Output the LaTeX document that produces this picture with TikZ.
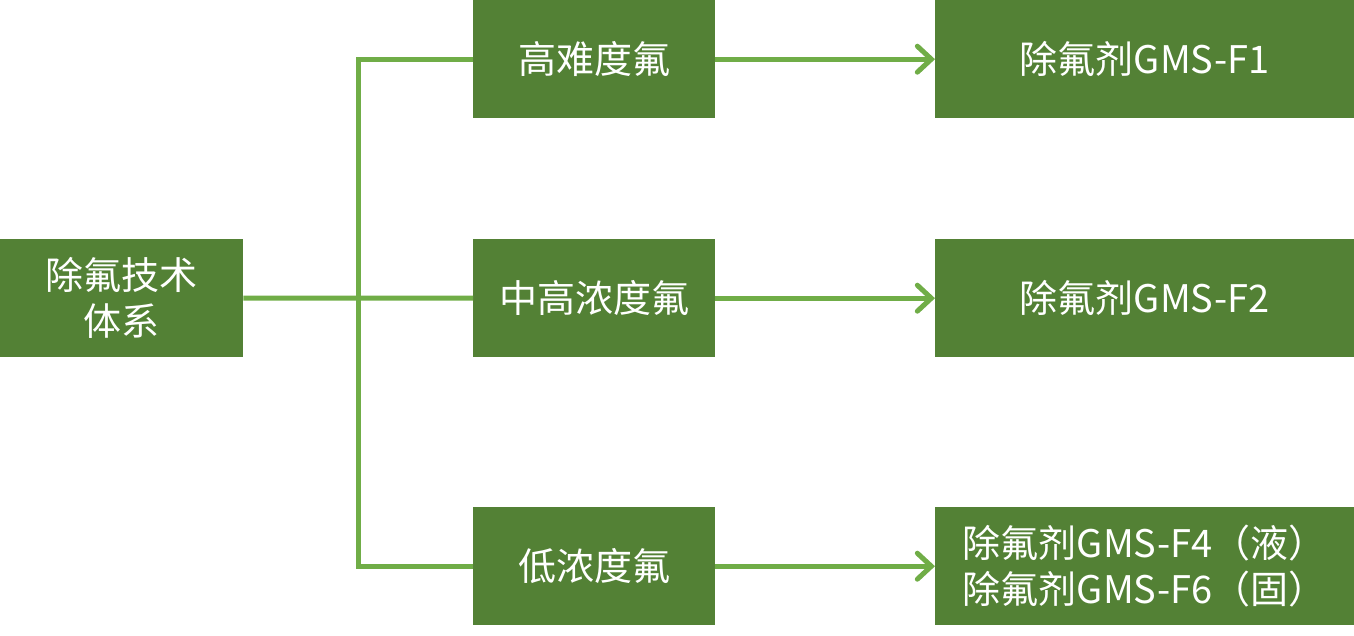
\documentclass[tikz,border=0pt]{standalone}
\usepackage{fontspec}
\setmainfont{Noto Sans CJK SC}
\usetikzlibrary{arrows.meta}
\definecolor{boxgreen}{HTML}{538135}
\definecolor{linegreen}{HTML}{70AD47}
\tikzset{
  box/.style={fill=boxgreen, text=white, inner sep=0pt, anchor=north west, align=center, font=\fontsize{38}{46}\selectfont},
  conn/.style={draw=linegreen, line width=5pt},
  arr/.style={conn, -{Straight Barb[length=14pt, width=26pt, line cap=round]}}
}
\begin{document}
\begin{tikzpicture}[x=1pt,y=-1pt]
\useasboundingbox (0,0) rectangle (1354,635);
\node[box, minimum width=243pt, minimum height=118pt] (root) at (0,239) {除氟技术\\体系};
\node[box, minimum width=242pt, minimum height=118pt] (m1) at (473,0) {高难度氟};
\node[box, minimum width=242pt, minimum height=118pt] (m2) at (473,239) {中高浓度氟};
\node[box, minimum width=242pt, minimum height=118pt] (m3) at (473,507) {低浓度氟};
\node[box, minimum width=419pt, minimum height=118pt] (r1) at (935,0) {除氟剂GMS-F1};
\node[box, minimum width=419pt, minimum height=118pt] (r2) at (935,239) {除氟剂GMS-F2};
\node[box, minimum width=419pt, minimum height=118pt] (r3) at (935,507) {除氟剂GMS-F4（液）\\除氟剂GMS-F6（固）};
\coordinate (j) at (358,298);
\draw[conn] (root.east) -- (j);
\draw[conn] (m1.west) -- (m1.west -| j) -- (m3.west -| j) -- (m3.west);
\draw[conn] (j) -- (m2.west);
\draw[arr] (m1.east) -- (r1.west);
\draw[arr] (m2.east) -- (r2.west);
\draw[arr] (m3.east) -- (r3.west);
\end{tikzpicture}
\end{document}
